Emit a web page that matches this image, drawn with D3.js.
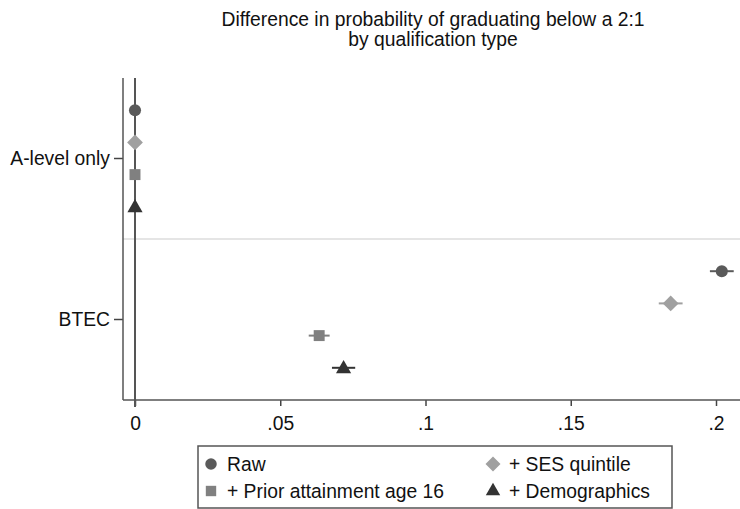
<!DOCTYPE html>
<html><head><meta charset="utf-8">
<script src="https://cdn.jsdelivr.net/npm/d3@7"></script>
<style>body{margin:0;background:#fff}svg{display:block;font-family:Arial,"Liberation Sans",sans-serif}</style>
</head><body><svg id="c" width="740" height="509"></svg>
<script>
const titleLines = ["Difference in probability of graduating below a 2:1", "by qualification type"];
const categories = ["A-level only", "BTEC"];
const series = ["Raw", "+ SES quintile", "+ Prior attainment age 16", "+ Demographics"];
const aLevelValues = [0, 0, 0, 0];
const btecValues = [0.202, 0.1844, 0.0634, 0.0718];
const btecLow = [0.1979, 0.1803, 0.0598, 0.0678];
const btecHigh = [0.2061, 0.1885, 0.0670, 0.0758];
const xTicks = [0, 0.05, 0.1, 0.15, 0.2];
const xTickLabels = ["0", ".05", ".1", ".15", ".2"];
const legendOrder = [0, 1, 2, 3];

const colors = ["#5a5a5a", "#a0a0a0", "#808080", "#333333"];
const shapes = [d3.symbolCircle, d3.symbolSquare, d3.symbolSquare, d3.symbolTriangle];
const rotations = [0, 45, 0, 0];
const sizes = [115, 125, 120, 100];
const FS = 19.3;

const svg = d3.select("#c");
const L = 123, R = 740, T = 78, B = 400;
const x = d3.scaleLinear().domain([0, 0.2]).range([135, 716]);
const y = d3.scaleBand().domain(categories).range([T, B]).padding(0);
const yInner = d3.scalePoint().domain(series).range([-48.3, 48.3]);

// title
svg.append("g").selectAll("text").data(titleLines).join("text")
  .attr("x", 433).attr("y", (d, i) => 26 + i * 20).attr("text-anchor", "middle")
  .attr("font-size", FS).attr("fill", "#111").text(d => d);

// separator
svg.append("line").attr("x1", L).attr("x2", R).attr("y1", y("BTEC")).attr("y2", y("BTEC"))
  .attr("stroke", "#dcdcdc").attr("stroke-width", 1.5);

// axes
const xAxis = d3.axisBottom(x).tickValues(xTicks).tickFormat((d, i) => xTickLabels[i]).tickSize(6).tickPadding(10);
const gx = svg.append("g").attr("transform", `translate(0,${B})`).call(xAxis);
gx.select(".domain").remove();
gx.selectAll(".tick line").attr("stroke", "#444").attr("stroke-width", 1.5);
gx.selectAll(".tick text").attr("font-size", FS).attr("fill", "#111").attr("font-family", "Arial,'Liberation Sans',sans-serif");
svg.append("line").attr("x1", L).attr("x2", R).attr("y1", B).attr("y2", B).attr("stroke", "#555").attr("stroke-width", 1.5);

const yAxis = d3.axisLeft(y).tickSize(9).tickPadding(4);
const gy = svg.append("g").attr("transform", `translate(${L},0)`).call(yAxis);
gy.select(".domain").remove();
gy.selectAll(".tick line").attr("stroke", "#444").attr("stroke-width", 1.5);
gy.selectAll(".tick text").attr("font-size", FS).attr("fill", "#111").attr("font-family", "Arial,'Liberation Sans',sans-serif");
svg.append("line").attr("x1", L).attr("x2", L).attr("y1", T).attr("y2", B).attr("stroke", "#555").attr("stroke-width", 1.5);

// zero reference line
svg.append("line").attr("x1", x(0)).attr("x2", x(0)).attr("y1", T).attr("y2", B + 7)
  .attr("stroke", "#555").attr("stroke-width", 2);

// data
const rows = [];
series.forEach((s, i) => {
  rows.push({cat: "A-level only", s, i, v: aLevelValues[i], lo: aLevelValues[i], hi: aLevelValues[i]});
  rows.push({cat: "BTEC", s, i, v: btecValues[i], lo: btecLow[i], hi: btecHigh[i]});
});
const cy = d => y(d.cat) + y.bandwidth() / 2 + yInner(d.s);
svg.append("g").selectAll("line").data(rows.filter(d => d.hi > d.lo)).join("line")
  .attr("x1", d => x(d.lo)).attr("x2", d => x(d.hi)).attr("y1", cy).attr("y2", cy)
  .attr("stroke", d => colors[d.i]).attr("stroke-width", 2);
svg.append("g").selectAll("path").data(rows).join("path")
  .attr("transform", d => `translate(${x(d.v)},${cy(d) + (d.i === 3 ? 1 : 0)}) rotate(${rotations[d.i]})`)
  .attr("d", d => d3.symbol().type(shapes[d.i]).size(sizes[d.i])())
  .attr("fill", d => colors[d.i]);

// legend
const lg = svg.append("g");
lg.append("rect").attr("x", 198).attr("y", 446).attr("width", 474).attr("height", 62)
  .attr("fill", "#fff").attr("stroke", "#555").attr("stroke-width", 1.5);
const legX = [211, 493], legY = [464, 491];
const items = lg.selectAll("g").data(legendOrder).join("g")
  .attr("transform", (d, k) => `translate(${legX[k % 2]},${legY[Math.floor(k / 2)]})`);
items.append("path").attr("d", d => d3.symbol().type(shapes[d]).size(sizes[d] * 0.9)())
  .attr("transform", d => `rotate(${rotations[d]})`)
  .attr("fill", d => colors[d]);
items.append("text").attr("x", 16).attr("y", 7).attr("font-size", FS).attr("fill", "#111")
  .text(d => series[d]);
</script></body></html>
